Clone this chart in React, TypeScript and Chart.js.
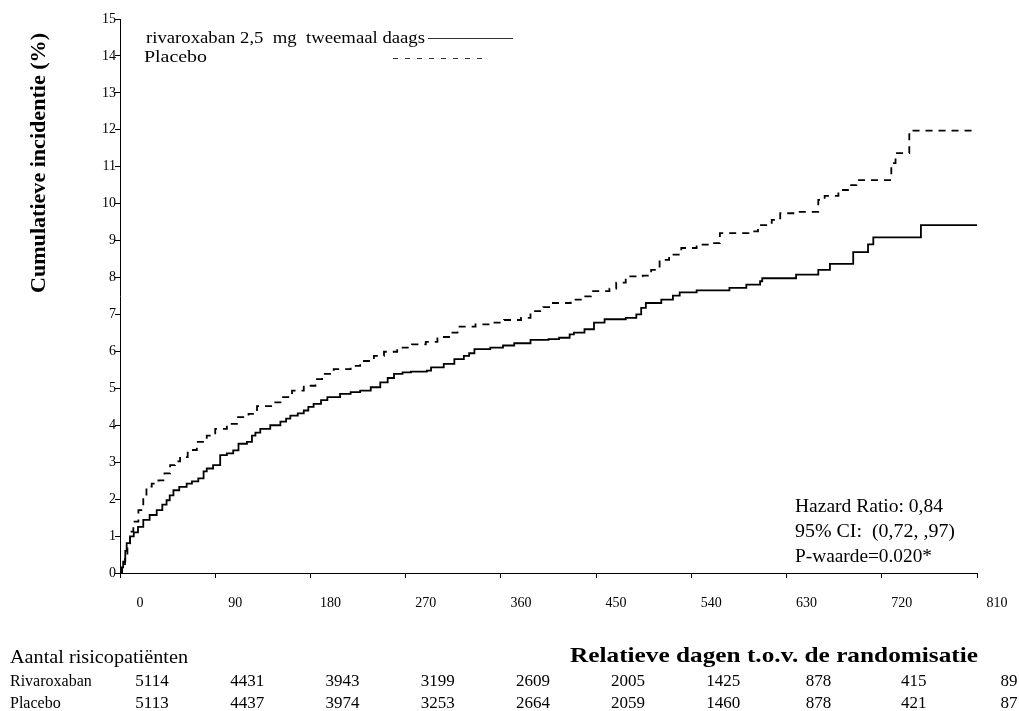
import React, { useEffect, useRef } from "react";
import { Chart, registerables } from "chart.js";

Chart.register(...registerables);

const SERIF = '"Liberation Serif", "Times New Roman", serif';

// Kaplan-Meier style cumulative incidence (%)
const rivaroxabanDays = [
  0, 1, 3, 5, 6.3, 9.5, 13, 17, 22, 28, 34.7, 40, 44, 47, 50.5, 56, 63, 68, 74, 79, 82, 88,
  94.7, 101, 107, 112, 120, 124.7, 128, 132.6, 142, 151.6, 157, 161, 168, 173.7, 178, 183,
  190, 196, 208, 218, 227, 237, 246, 253, 259, 267, 275, 290, 294, 306, 316, 325, 330, 335,
  350, 362, 372.6, 388, 405, 415, 425, 429, 439, 448, 458, 478, 488, 492.6, 497, 511.6,
  522.6, 529, 545, 576, 592, 605, 607, 639, 660, 671, 693, 707, 712, 757, 810,
];
const rivaroxabanPct = [
  0, 0.15, 0.31, 0.6, 0.81, 0.99, 1.1, 1.25, 1.44, 1.57, 1.7, 1.85, 1.97, 2.1, 2.24, 2.33,
  2.42, 2.48, 2.56, 2.75, 2.83, 2.92, 3.19, 3.24, 3.32, 3.5, 3.55, 3.72, 3.8, 3.9, 4.0, 4.1,
  4.18, 4.26, 4.32, 4.4, 4.5, 4.58, 4.68, 4.76, 4.85, 4.9, 4.94, 5.03, 5.16, 5.28, 5.39, 5.43,
  5.45, 5.48, 5.57, 5.66, 5.79, 5.88, 5.95, 6.06, 6.1, 6.16, 6.22, 6.31, 6.33, 6.37, 6.46,
  6.51, 6.6, 6.78, 6.87, 6.91, 7.0, 7.18, 7.31, 7.4, 7.51, 7.6, 7.65, 7.72, 7.81, 7.9, 7.98,
  8.08, 8.21, 8.37, 8.69, 8.9, 9.09, 9.42, 9.42,
];

const placeboDays = [
  0, 2, 4.7, 7, 9.5, 12.6, 17.4, 22, 25, 30, 36.3, 42, 47.4, 52, 56.8, 64, 72.6, 82, 90, 101,
  110.5, 121.5, 129.5, 145, 153, 162.6, 173.7, 184.7, 191, 202, 218, 227, 240, 249.5, 262,
  276, 289, 300, 311, 319, 336, 350.5, 363, 379, 388, 400, 407, 426, 437, 445, 462.6, 469,
  478, 494, 502, 510, 519, 530.5, 545, 557, 567, 594, 603, 616, 624, 638, 660, 666, 679, 688,
  696, 729, 733, 746, 810,
];
const placeboPct = [
  0, 0.2, 0.49, 0.8, 1.12, 1.39, 1.7, 2.05, 2.34, 2.42, 2.51, 2.7, 2.92, 3.02, 3.14, 3.33,
  3.55, 3.72, 3.9, 4.04, 4.22, 4.31, 4.52, 4.62, 4.76, 4.94, 5.07, 5.25, 5.39, 5.52, 5.61,
  5.74, 5.88, 5.99, 6.1, 6.19, 6.26, 6.39, 6.51, 6.67, 6.73, 6.78, 6.85, 6.91, 7.09, 7.2,
  7.31, 7.4, 7.49, 7.63, 7.7, 7.86, 8.03, 8.05, 8.21, 8.48, 8.62, 8.8, 8.89, 8.93, 9.2, 9.25,
  9.42, 9.56, 9.74, 9.78, 10.1, 10.21, 10.37, 10.5, 10.64, 11.1, 11.37, 11.98, 11.98,
];

const xTickValues = [0, 90, 180, 270, 360, 450, 540, 630, 720, 810];
const legendLabels = ["rivaroxaban 2,5  mg  tweemaal daags", "Placebo"];
const statsLines = ["Hazard Ratio: 0,84", "95% CI:  (0,72, ,97)", "P-waarde=0.020*"];
const yAxisTitle = "Cumulatieve incidentie (%)";
const xAxisTitle = "Relatieve dagen t.o.v. de randomisatie";
const riskHeader = "Aantal risicopatiënten";
const riskRowLabels = ["Rivaroxaban", "Placebo"];
const riskRivaroxaban = [5114, 4431, 3943, 3199, 2609, 2005, 1425, 878, 415, 89];
const riskPlacebo = [5113, 4437, 3974, 3253, 2664, 2059, 1460, 878, 421, 87];

function toPoints(days: number[], pct: number[]) {
  return days.map((d, i) => ({ x: d, y: pct[i] }));
}

function drawText(
  ctx: CanvasRenderingContext2D,
  text: string,
  x: number,
  y: number,
  font: string,
  align: CanvasTextAlign,
  width?: number
) {
  ctx.save();
  ctx.font = font;
  ctx.fillStyle = "#000";
  ctx.textBaseline = "middle";
  ctx.textAlign = align;
  const w = ctx.measureText(text).width;
  const sx = width ? width / w : 1;
  ctx.translate(x, y);
  ctx.scale(sx, 1);
  ctx.fillText(text, 0, 0);
  ctx.restore();
}

const overlayPlugin = {
  id: "overlay",
  afterDraw(chart: any) {
    const ctx: CanvasRenderingContext2D = chart.ctx;
    const xs = chart.scales.x;

    // y axis title (rotated)
    ctx.save();
    ctx.translate(40, 163);
    ctx.rotate(-Math.PI / 2);
    drawText(ctx, yAxisTitle, 0, 0, `bold 20px ${SERIF}`, "center", 260);
    ctx.restore();

    // legend
    drawText(ctx, legendLabels[0], 146, 39, `17px ${SERIF}`, "left", 279);
    drawText(ctx, legendLabels[1], 144, 58, `17px ${SERIF}`, "left", 63);
    ctx.save();
    ctx.strokeStyle = "#333";
    ctx.lineWidth = 1;
    ctx.beginPath();
    ctx.moveTo(428, 38.5);
    ctx.lineTo(513, 38.5);
    ctx.stroke();
    ctx.setLineDash([5, 7]);
    ctx.beginPath();
    ctx.moveTo(393, 58.5);
    ctx.lineTo(483, 58.5);
    ctx.stroke();
    ctx.restore();

    // statistics box
    const statW = [148, 160, 137];
    statsLines.forEach((s, i) => {
      drawText(ctx, s, 795, 507 + i * 25, `18px ${SERIF}`, "left", statW[i]);
    });

    // risk table
    drawText(ctx, riskHeader, 10, 658, `18px ${SERIF}`, "left", 178);
    drawText(ctx, xAxisTitle, 570, 656, `bold 22px ${SERIF}`, "left", 408);
    const rows = [riskRivaroxaban, riskPlacebo];
    rows.forEach((vals, r) => {
      const y = 682 + r * 22;
      drawText(ctx, riskRowLabels[r], 10, y, `16px ${SERIF}`, "left");
      vals.forEach((v, i) => {
        const px = xs.getPixelForValue(xTickValues[i]) + 32;
        drawText(ctx, String(v), px, y, `17px ${SERIF}`, "center");
      });
    });
  },
};

export default function App() {
  const ref = useRef<HTMLCanvasElement>(null);
  useEffect(() => {
    const chart = new Chart(ref.current as HTMLCanvasElement, {
      type: "line",
      data: {
        datasets: [
          {
            label: legendLabels[0],
            data: toPoints(rivaroxabanDays, rivaroxabanPct),
            borderColor: "#000",
            borderWidth: 1.8,
            stepped: "before",
            pointRadius: 0,
            fill: false,
          },
          {
            label: legendLabels[1],
            data: toPoints(placeboDays, placeboPct),
            borderColor: "#000",
            borderWidth: 1.8,
            borderDash: [7, 6],
            stepped: "before",
            pointRadius: 0,
            fill: false,
          },
        ],
      },
      options: {
        animation: false,
        responsive: false,
        layout: { padding: { left: 80, right: 42, top: 19, bottom: 98 } },
        plugins: { legend: { display: false }, tooltip: { enabled: false } },
        scales: {
          x: {
            type: "linear",
            min: 0,
            max: 810,
            afterFit: (s: any) => {
              s.height = 40;
            },
            afterBuildTicks: (s: any) => {
              s.ticks = xTickValues.map((v) => ({ value: v }));
            },
            border: { display: true, color: "#000", width: 1 },
            grid: { drawOnChartArea: false, drawTicks: true, tickLength: 5, color: "#000" },
            ticks: {
              color: "#000",
              font: { family: SERIF, size: 14 },
              padding: 17,
              labelOffset: 20,
              maxRotation: 0,
              autoSkip: false,
              callback: (v: any) => String(v),
            },
          },
          y: {
            type: "linear",
            min: 0,
            max: 15,
            afterFit: (s: any) => {
              s.width = 40;
            },
            border: { display: true, color: "#000", width: 1 },
            grid: { drawOnChartArea: false, drawTicks: true, tickLength: 5, color: "#000" },
            ticks: {
              color: "#000",
              stepSize: 1,
              font: { family: SERIF, size: 14 },
              padding: -1,
              callback: (v: any) => String(v),
            },
          },
        },
      },
      plugins: [overlayPlugin],
    });
    return () => chart.destroy();
  }, []);
  return (
    <div
      style={{ position: "absolute", left: 0, top: 0, width: 1019, height: 711, background: "#fff" }}
    >
      <canvas ref={ref} width={1019} height={711} style={{ display: "block" }} />
    </div>
  );
}
